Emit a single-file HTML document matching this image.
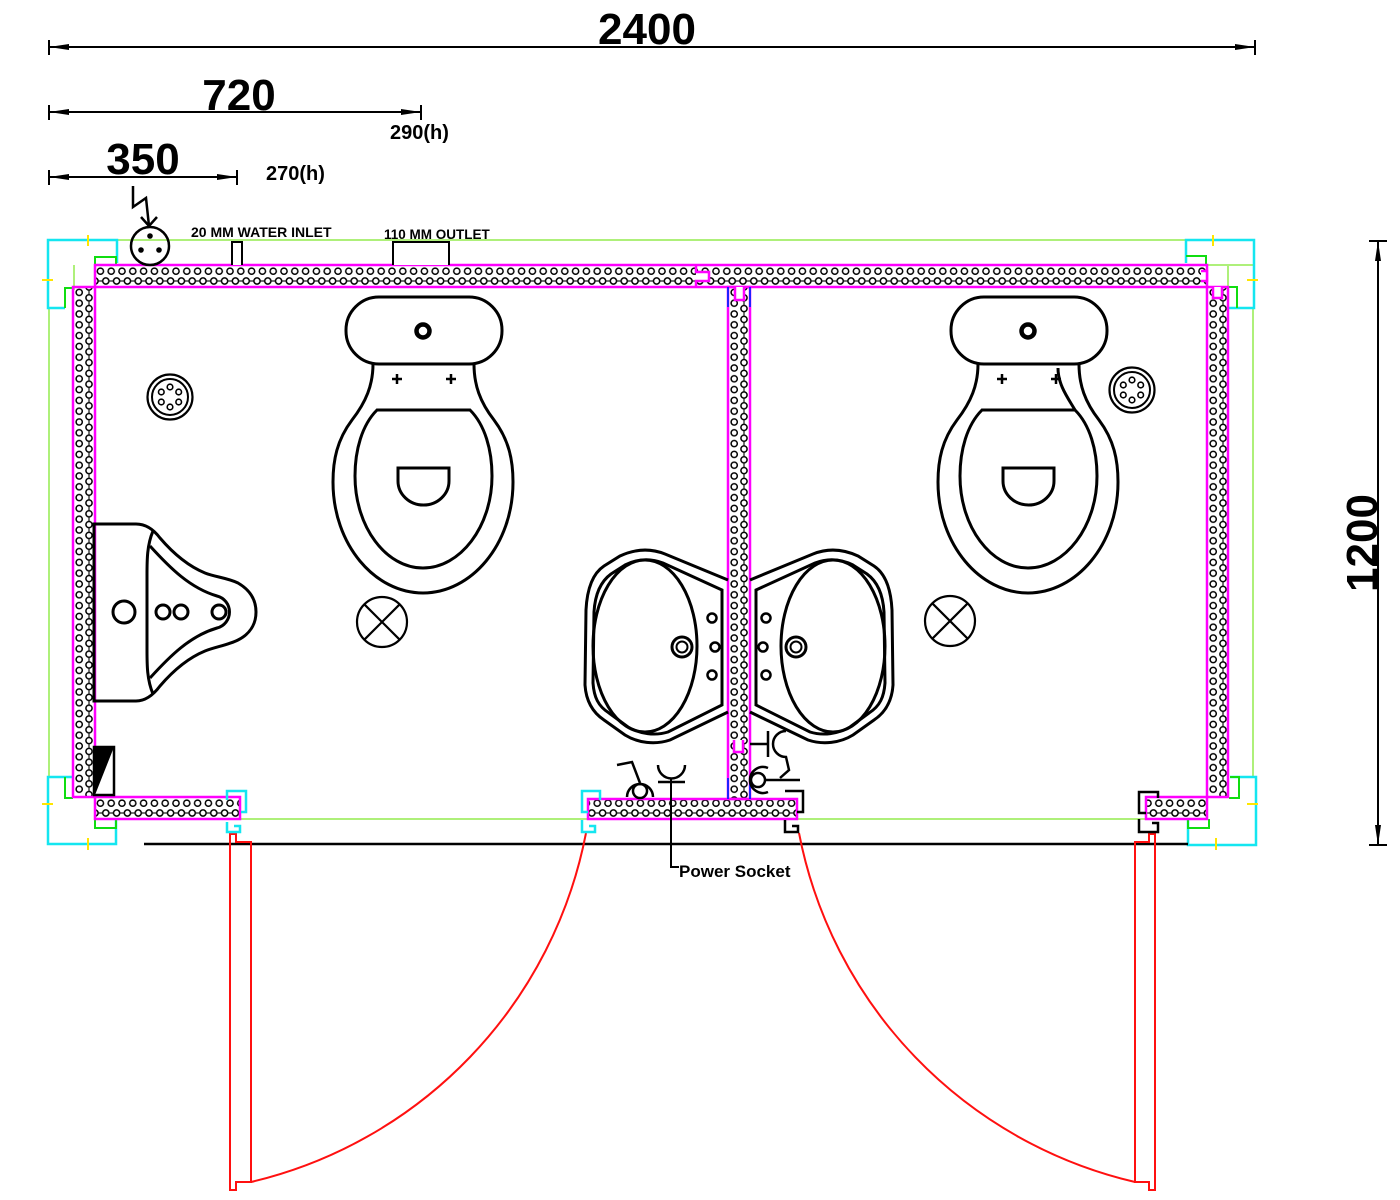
<!DOCTYPE html>
<html><head><meta charset="utf-8"><style>
html,body{margin:0;padding:0;background:#fff;}
svg{display:block;}
text{font-family:"Liberation Sans",Arial,sans-serif;font-weight:bold;fill:#000;}
</style></head><body>
<svg width="1400" height="1200" viewBox="0 0 1400 1200" xmlns="http://www.w3.org/2000/svg">
<defs>
<g id="htile">
 <g fill="none" stroke="#000" stroke-width="1.5">
  <circle cx="5.4" cy="6.2" r="3.1"/>
  <circle cx="0" cy="16" r="3.1"/>
  <circle cx="10.8" cy="16" r="3.1"/>
  <path d="M3.1 16H7.7" stroke-width="1.1"/>
 </g>
</g>
<g id="vtile">
 <g fill="none" stroke="#000" stroke-width="1.5">
  <circle cx="6.2" cy="5.4" r="3.1"/>
  <circle cx="16" cy="0" r="3.1"/>
  <circle cx="16" cy="10.8" r="3.1"/>
  <path d="M16 3.1V7.7" stroke-width="1.1"/>
 </g>
</g>
<pattern id="ph1" patternUnits="userSpaceOnUse" width="10.8" height="22" x="95" y="265"><use href="#htile"/></pattern>
<pattern id="ph2" patternUnits="userSpaceOnUse" width="10.8" height="22" x="95" y="797"><use href="#htile"/></pattern>
<pattern id="pv1" patternUnits="userSpaceOnUse" width="22" height="10.8" x="73" y="287"><use href="#vtile"/></pattern>
<pattern id="pv2" patternUnits="userSpaceOnUse" width="22" height="10.8" x="728" y="287"><use href="#vtile"/></pattern>
<pattern id="pv3" patternUnits="userSpaceOnUse" width="22" height="10.8" x="1207" y="287"><use href="#vtile"/></pattern>

<g id="toilet" fill="none" stroke="#000" stroke-width="3">
 <rect x="346" y="297" width="156" height="67" rx="33" ry="33"/>
 <circle cx="423" cy="331" r="6.5" stroke-width="4.5"/>
 <path d="M373,364 C373,385 366,402 352,420 C337,440 333,460 333,482 C333,545 375,593 423,593 C471,593 513,545 513,482 C513,460 509,440 494,420 C480,402 474,385 474,364"/>
 <path d="M377,410 H470 C485,425 492,450 492,476 C492,527 460,568 423,568 C386,568 355,527 355,476 C355,450 362,425 377,410 Z"/>
 <path d="M398,468 H449 V481 A25.5,24 0 0 1 398,481 Z"/>
 <path d="M392,379 H402 M397,374 V384 M446,379 H456 M451,374 V384" stroke-width="2.5"/>
</g>

<g id="sink" fill="none" stroke="#000" stroke-width="3">
 <path d="M728,580 L665,554 C650,548 635,549 620,556 L604,566 C592,574 587,590 586,610 L585,685 C586,700 592,712 604,720 L625,735 C638,743 655,745 670,740 L728,712"/>
 <path d="M722,590 L663,563 C650,558 637,559 625,565 L611,574 C600,582 595,595 594,612 L593,683 C594,697 598,706 609,713 L628,727 C640,734 655,736 668,732 L722,705 Z"/>
 <ellipse cx="645" cy="646" rx="52" ry="86"/>
 <circle cx="682" cy="647" r="10"/>
 <circle cx="682" cy="647" r="5.5" stroke-width="2"/>
 <circle cx="712" cy="618" r="4.5" stroke-width="2.5"/>
 <circle cx="715" cy="647" r="4.5" stroke-width="2.5"/>
 <circle cx="712" cy="675" r="4.5" stroke-width="2.5"/>
</g>

<g id="drain" fill="none" stroke="#000">
 <circle cx="0" cy="0" r="22.5" stroke-width="2.2"/>
 <circle cx="0" cy="0" r="18" stroke-width="2"/>
 <circle cx="0" cy="-10" r="2.8" stroke-width="1.6"/>
 <circle cx="8.7" cy="-5" r="2.8" stroke-width="1.6"/>
 <circle cx="8.7" cy="5" r="2.8" stroke-width="1.6"/>
 <circle cx="0" cy="10" r="2.8" stroke-width="1.6"/>
 <circle cx="-8.7" cy="5" r="2.8" stroke-width="1.6"/>
 <circle cx="-8.7" cy="-5" r="2.8" stroke-width="1.6"/>
</g>

<g id="lamp" fill="none" stroke="#000" stroke-width="2.2">
 <circle cx="0" cy="0" r="25"/>
 <path d="M-17.7,-17.7 L17.7,17.7 M17.7,-17.7 L-17.7,17.7"/>
</g>
</defs>

<!-- ============ DIMENSIONS ============ -->
<g stroke="#000" stroke-width="2" fill="none">
 <path d="M49,47 H1255 M49,40 V55 M1255,40 V55"/>
 <path d="M49,112 H421 M49,105 V120 M421,105 V120"/>
 <path d="M49,177 H237 M49,170 V185 M237,170 V185"/>
 <path d="M1378,241 V845 M1369,241 H1387 M1369,845 H1387"/>
</g>
<g fill="#000">
 <polygon points="49,47 69,44 69,50"/><polygon points="1255,47 1235,44 1235,50"/>
 <polygon points="49,112 69,109 69,115"/><polygon points="421,112 401,109 401,115"/>
 <polygon points="49,177 69,174 69,180"/><polygon points="237,177 217,174 217,180"/>
 <polygon points="1378,241 1375,261 1381,261"/><polygon points="1378,845 1375,825 1381,825"/>
</g>
<text x="647" y="44" font-size="44" text-anchor="middle">2400</text>
<text x="239" y="110" font-size="44" text-anchor="middle">720</text>
<text x="143" y="174" font-size="44" text-anchor="middle">350</text>
<text x="390" y="139" font-size="20">290(h)</text>
<text x="266" y="180" font-size="20">270(h)</text>
<text transform="translate(1377,543) rotate(-90)" font-size="44" text-anchor="middle">1200</text>

<!-- ============ LIME OUTLINE ============ -->
<g stroke="#aef07a" stroke-width="2" fill="none">
 <path d="M116,240 H1186"/>
 <path d="M49,308 V777"/>
 <path d="M1253,308 V777"/>
 <path d="M116,819 H1188"/>
 <path d="M74,265 V290"/>
 <path d="M1207,265 H1254 M1228,265 V290"/>
</g>

<!-- ============ CYAN / GREEN CORNERS ============ -->
<g stroke="#14e6f0" stroke-width="2.5" fill="none">
 <path d="M117,263 V240 H48 V308 H65"/>
 <path d="M1186,263 V240 H1254 V308 H1229"/>
 <path d="M72,777 H48 V844 H116 V819"/>
 <path d="M1230,777 H1256 V845 H1188 V819"/>
</g>
<g stroke="#10dd10" stroke-width="2" fill="none">
 <path d="M95,265 V257 H116 V265"/>
 <path d="M65,308 V288 H73"/>
 <path d="M1186,256 H1206 V265"/>
 <path d="M1229,287 H1237 V308"/>
 <path d="M65,777 V798 H73"/>
 <path d="M95,819 V828 H116 V819"/>
 <path d="M1188,819 V828 H1209 V819"/>
 <path d="M1230,777 H1239 V798 H1229"/>
</g>
<g stroke="#ffe600" stroke-width="2">
 <path d="M88,235 V246 M42,280 H53"/>
 <path d="M1213,235 V246 M1247,280 H1258"/>
 <path d="M42,804 H53 M88,838 V850"/>
 <path d="M1247,804 H1258 M1216,838 V850"/>
</g>

<!-- ============ WALLS ============ -->
<g stroke="#ff00ff" stroke-width="2.5">
 <rect x="95" y="265" width="1112" height="22" fill="url(#ph1)"/>
 <rect x="73" y="287" width="22" height="510" fill="url(#pv1)"/>
 <rect x="728" y="287" width="22" height="512" fill="url(#pv2)"/>
 <rect x="1207" y="287" width="21" height="510" fill="url(#pv3)"/>
 <rect x="95" y="797" width="145" height="22" fill="url(#ph2)"/>
 <rect x="588" y="799" width="209" height="20" fill="url(#ph2)"/>
 <rect x="1146" y="797" width="61" height="22" fill="url(#ph2)"/>
</g>
<g stroke="#ff00ff" stroke-width="2.5" fill="#fff">
 <path d="M696,265 V272 H709 V281 H696 V287"/>
 <path d="M735,287 V300 H744 V287"/>
 <path d="M1201,271 H1207 V281 H1201"/>
 <path d="M1213,287 V298 H1222 V287"/>
 <path d="M734,740 V752 H743 V740"/>
</g>
<g stroke="#2020ff" stroke-width="2">
 <path d="M728,287 V307 M750,287 V307"/>
 <path d="M728,778 V799 M750,778 V799"/>
</g>

<!-- ============ TOP SERVICES ============ -->
<g fill="none" stroke="#000" stroke-width="2.5">
 <circle cx="150" cy="246" r="19"/>
 <path d="M133,186 V207 L146,198 L149,226"/>
 <path d="M141,217 L149,226 L157,217"/>
</g>
<g fill="#000"><circle cx="150" cy="236" r="2.8"/><circle cx="141" cy="250" r="2.8"/><circle cx="159" cy="250" r="2.8"/></g>
<g fill="#fff" stroke="#000" stroke-width="2">
 <path d="M232,265 V242 H242 V265"/>
 <path d="M393,265 V242 H449 V265"/>
</g>
<text x="191" y="237" font-size="14">20 MM WATER INLET</text>
<text x="384" y="239" font-size="13.5">110 MM OUTLET</text>

<!-- ============ FIXTURES ============ -->
<use href="#toilet"/>
<use href="#toilet" transform="translate(605,0)"/>
<path d="M1058,368 C1058,385 1068,398 1075,410" fill="none" stroke="#000" stroke-width="3"/>

<use href="#drain" transform="translate(170,397)"/>
<use href="#drain" transform="translate(1132,390)"/>
<use href="#lamp" transform="translate(382,622)"/>
<use href="#lamp" transform="translate(950,621)"/>

<use href="#sink"/>
<use href="#sink" transform="translate(1478,0) scale(-1,1)"/>

<!-- urinal -->
<g fill="none" stroke="#000" stroke-width="3">
 <path d="M94,524 H136 C146,524 154,530 160,538 C172,552 188,566 205,573 C215,577 228,578 238,583 C250,590 256,600 256,612 C256,624 250,634 238,640 C228,645 215,647 205,651 C188,658 172,672 160,686 C154,694 146,701 136,701 H94 Z"/>
 <path d="M153,531 C147,545 147,560 147,575 V650 C147,665 147,680 153,694"/>
 <path d="M150,546 C170,568 190,588 217,596 A16.5,16.5 0 0 1 217,628 C190,636 170,656 150,678"/>
 <circle cx="124" cy="612" r="11"/>
 <circle cx="163" cy="612" r="7"/>
 <circle cx="181" cy="612" r="7"/>
 <circle cx="219" cy="612" r="7"/>
</g>

<!-- small box -->
<rect x="94" y="747" width="20" height="48" fill="#fff" stroke="#000" stroke-width="2.5"/>
<polygon points="94,747 114,747 95,795" fill="#000"/>

<!-- symbols near sinks -->
<g fill="none" stroke="#000" stroke-width="2.5">
 <path d="M617,765 L632,762 L640,783"/>
 <circle cx="640" cy="791" r="7"/>
 <path d="M627,797 A13,13 0 0 1 653,797"/>
 <path d="M658,765 A13,13 0 0 0 685,765"/>
 <path d="M658,782 H685"/>
 <path d="M671,778 V867 H679" stroke-width="2"/>
 <path d="M750,744 H768 M768,731 V757"/>
 <path d="M786,731 A13,13 0 0 0 786,757 L789,770 L780,778"/>
 <circle cx="758" cy="780" r="7"/>
 <path d="M768,768 A13,13 0 1 0 768,792"/>
 <path d="M766,780 H800"/>
</g>
<text x="679" y="877" font-size="17">Power Socket</text>

<!-- ============ DOORS ============ -->
<path d="M144,844 H1188" stroke="#000" stroke-width="2.5"/>
<g fill="none" stroke="#ff1010" stroke-width="2">
 <path d="M230,834 H236 V842 H251 V1182 H236 V1190 H230 Z"/>
 <path d="M586,833 A445,445 0 0 1 251,1182"/>
 <path d="M1155,834 H1149 V842 H1135 V1182 H1149 V1190 H1155 Z"/>
 <path d="M799,833 A445,445 0 0 0 1135,1182"/>
</g>

<!-- jamb brackets -->
<g fill="none" stroke="#14e6f0" stroke-width="2.5">
 <path d="M241,812 H246 V791 H227 V800 M227,822 V832 H240 V826 H234"/>
 <path d="M588,812 H582 V791 H600 V800 M582,820 V832 H595 V826 H589"/>
</g>
<g fill="none" stroke="#000" stroke-width="2.5">
 <path d="M785,791 H803 V812 H797 M785,820 V832 H798 V826 H792"/>
 <path d="M1158,798 V792 H1139 V813 H1146 M1139,819 V832 H1158 V823 H1152"/>
</g>
</svg>
</body></html>
